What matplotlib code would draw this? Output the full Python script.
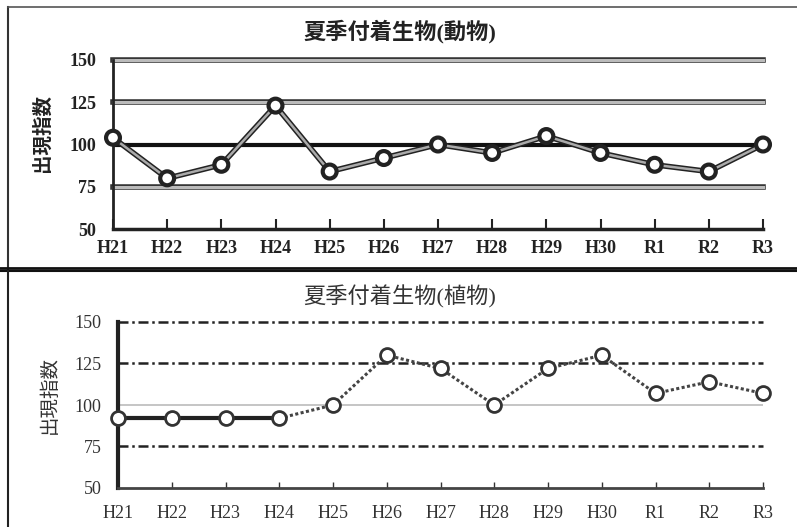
import matplotlib
matplotlib.use("Agg")
import matplotlib.pyplot as plt
import matplotlib.patheffects as pe
from matplotlib.lines import Line2D

categories = ["H21", "H22", "H23", "H24", "H25", "H26", "H27", "H28", "H29", "H30", "R1", "R2", "R3"]
animal_values = [104, 80, 88, 123, 84, 92, 100, 95, 105, 95, 88, 84, 100]
plant_values = [92, 92, 92, 92, 100, 130, 122, 100, 122, 130, 107, 114, 107]
yticks = [50, 75, 100, 125, 150]
title_top = "夏季付着生物(動物)"
title_bottom = "夏季付着生物(植物)"
ylabel = "出現指数"

FAM = ["Liberation Serif", "Noto Sans CJK JP", "DejaVu Sans"]
plt.rcParams["font.family"] = FAM

W, H = 797, 527
fig = plt.figure(figsize=(W / 100, H / 100), dpi=100)

def fx(px):
    return px / W

def fy(py):
    return 1 - py / H

def add_ax(l, t, r, b):
    return fig.add_axes([fx(l), fy(b), fx(r) - fx(l), fy(t) - fy(b)])

# panel borders
fig.add_artist(Line2D([fx(8), fx(8)], [fy(7), fy(269)], color="#333333", lw=1.5))
fig.add_artist(Line2D([fx(8), fx(800)], [fy(7), fy(7)], color="#555555", lw=1.2))
fig.add_artist(Line2D([fx(0), fx(800)], [fy(268), fy(268)], color="#111111", lw=2))
fig.add_artist(Line2D([fx(0), fx(800)], [fy(271), fy(271)], color="#111111", lw=1.5))
fig.add_artist(Line2D([fx(8), fx(8)], [fy(271), fy(530)], color="#222222", lw=1.5))

x = list(range(len(categories)))

# ---------- top chart ----------
ax1 = add_ax(113, 60, 763, 229)
ax1.set_xlim(0, len(categories) - 1)
ax1.set_ylim(50, 150)
for v in yticks:
    if v == 50:
        continue
    if v == 100:
        ax1.axhline(v, color="#111111", lw=3, zorder=1)
    else:
        ax1.axhline(v, color="#bbbbbb", lw=2.2, zorder=1, clip_on=False,
                    path_effects=[pe.Stroke(linewidth=4, foreground="#333333"), pe.Normal()])
ax1.plot(x, animal_values, color="#aaaaaa", lw=1.8, zorder=3,
         path_effects=[pe.Stroke(linewidth=4, foreground="#222222"), pe.Normal()],
         marker="o", markersize=9, markerfacecolor="white", markeredgecolor="#222222",
         markeredgewidth=2, clip_on=False)
for s in ["top", "right"]:
    ax1.spines[s].set_visible(False)
ax1.spines["left"].set_linewidth(2)
ax1.spines["bottom"].set_linewidth(2.5)
ax1.spines["left"].set_color("#222222")
ax1.spines["bottom"].set_color("#222222")
ax1.set_xticks(x)
ax1.set_xticklabels(categories, fontsize=13, fontweight="bold")
ax1.set_yticks(yticks)
ax1.set_yticklabels([str(v) for v in yticks], fontsize=13, fontweight="bold")
ax1.tick_params(axis="x", direction="in", length=7, width=1.5, pad=8, colors="#222222")
ax1.tick_params(axis="y", length=0, pad=12, colors="#222222")
fig.text(fx(400), fy(32), title_top, fontsize=16, fontweight="bold",
         ha="center", va="center", color="#222222")
fig.text(fx(42), fy(133), ylabel, fontsize=14, fontweight="bold", rotation=90,
         ha="center", va="center", color="#222222")

# ---------- bottom chart ----------
ax2 = add_ax(118, 322, 763, 488)
ax2.set_xlim(0, len(categories) - 1)
ax2.set_ylim(50, 150)
for v in yticks:
    if v == 50:
        continue
    if v == 100:
        ax2.axhline(v, color="#bbbbbb", lw=1.2, zorder=1)
    else:
        ax2.axhline(v, color="#222222", lw=1.8, ls=(0, (4, 1.5, 1, 1.5)), zorder=1, clip_on=False)
split = 3
ax2.plot(x[:split + 1], plant_values[:split + 1], color="#222222", lw=3, zorder=3)
ax2.plot(x[split:], plant_values[split:], color="#444444", lw=2.2, ls=(0, (1, 0.8)), zorder=3)
ax2.plot(x, plant_values, ls="none", marker="o", markersize=10, markerfacecolor="white",
         markeredgecolor="#333333", markeredgewidth=2, zorder=4, clip_on=False)
for s in ["top", "right"]:
    ax2.spines[s].set_visible(False)
ax2.spines["left"].set_linewidth(3)
ax2.spines["left"].set_color("#222222")
ax2.spines["bottom"].set_linewidth(2)
ax2.spines["bottom"].set_color("#444444")
ax2.set_xticks(x)
ax2.set_xticklabels(categories, fontsize=13)
ax2.set_yticks(yticks)
ax2.set_yticklabels([str(v) for v in yticks], fontsize=13)
ax2.tick_params(axis="x", direction="in", length=4, width=1, pad=12, colors="#333333")
ax2.tick_params(axis="y", length=0, pad=12, colors="#333333")
fig.text(fx(400), fy(297), title_bottom, fontsize=16,
         ha="center", va="center", color="#333333")
fig.text(fx(50), fy(395), ylabel, fontsize=14, rotation=90,
         ha="center", va="center", color="#333333")

fig.savefig("out.png", dpi=100)
